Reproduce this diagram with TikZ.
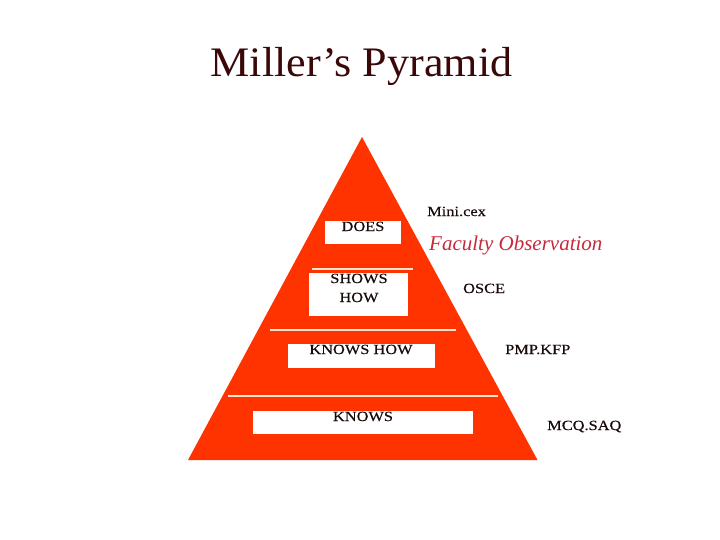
\documentclass[tikz,border=0pt]{standalone}
\usepackage{fontspec}
\setmainfont{Liberation Serif}
\newfontfamily\wideserif[FakeStretch=1.17,FakeBold=0.45]{Liberation Serif}
\newfontfamily\titleserif[FakeStretch=1.05]{Liberation Serif}
\definecolor{pyr}{HTML}{FF3300}
\definecolor{titlec}{HTML}{3A0808}
\definecolor{fac}{HTML}{C8283C}
\definecolor{lab}{HTML}{1A0A0A}
\definecolor{sep}{HTML}{FFE6CC}
\begin{document}
\begin{tikzpicture}[x=1pt,y=-1pt,
  box/.style={fill=white, inner sep=0pt, anchor=north west},
  boxlabel/.style={anchor=base, inner sep=0pt, text=lab, align=center,
    font=\wideserif\fontsize{14}{19}\selectfont},
  method/.style={anchor=base west, inner sep=0pt, text=lab,
    font=\wideserif\fontsize{14}{17}\selectfont},
  sepline/.style={draw=sep, line width=1.6pt}]
\useasboundingbox (0,0) rectangle (720,540);
\node[anchor=base, inner sep=0pt, text=titlec, font=\titleserif\fontsize{42}{50}\selectfont] (title) at (361.5,77) {Miller’s Pyramid};
\fill[pyr] (362,137) coordinate (apex) -- (537.5,460) coordinate (br) -- (188,460) coordinate (bl) -- cycle;
% boxes
\node[box, minimum width=76pt, minimum height=23pt] (bdoes) at (325,221) {};
\node[box, minimum width=99pt, minimum height=43pt] (bshows) at (309,273) {};
\node[box, minimum width=147pt, minimum height=24pt] (bkh) at (288,344) {};
\node[box, minimum width=220pt, minimum height=23pt] (bknows) at (253,411) {};
% separators
\draw[sepline] (312,269) -- (413,269);
\draw[sepline] (270,330) -- (456,330);
\draw[sepline] (228,396) -- (498,396);
% labels
\node[boxlabel] (ldoes) at (363,231) {DOES};
\node[boxlabel] (lshows) at (359,302) {SHOWS\\HOW};
\node[boxlabel] (lkh) at (361,354) {KNOWS HOW};
\node[boxlabel] (lknows) at (363,421) {KNOWS};
% methods
\node[method] (mini) at (427,216) {Mini.cex};
\node[anchor=base west, inner sep=0pt, text=fac, font=\fontsize{21}{24}\selectfont\itshape] (fac) at (429,250) {Faculty Observation};
\node[method] (osce) at (463,293) {OSCE};
\node[method] (pmp) at (505,354) {PMP.KFP};
\node[method] (mcq) at (547,430) {MCQ.SAQ};
\end{tikzpicture}
\end{document}
